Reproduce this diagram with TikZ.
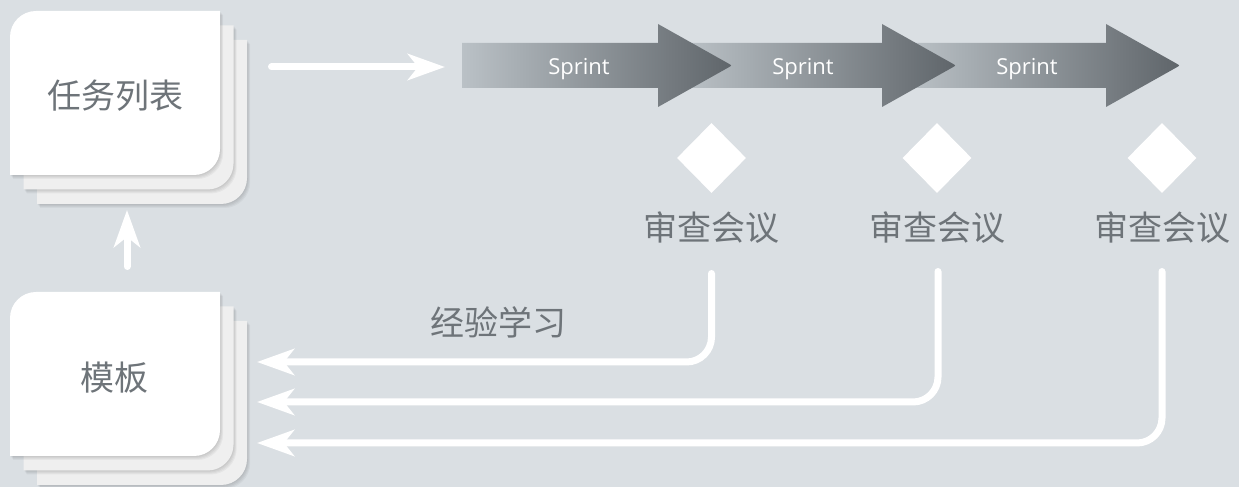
\documentclass[tikz,border=0pt]{standalone}
\usepackage{fontspec}
\setmainfont{Open Sans}
\newfontfamily\cjk{Noto Sans CJK SC}
\usetikzlibrary{arrows.meta,shapes.geometric}
\definecolor{bgcol}{HTML}{DADFE3}
\definecolor{sprL}{HTML}{BAC1C6}
\definecolor{sprR}{HTML}{5F656A}
\definecolor{txtgray}{HTML}{6E7479}
\definecolor{cardback}{HTML}{EFEFEF}
\def\cardpath{(0,0) -- (0,138) arc[start angle=180,end angle=90,radius=26] -- (210,164) -- (210,26) arc[start angle=0,end angle=-90,radius=26] -- cycle}
\def\card(#1,#2)[#3]{\foreach \s in {1,...,4}{\fill[black,opacity=.04,shift={(#1+\s*.8,#2-\s)}] \cardpath;}
	\fill[#3,shift={(#1,#2)}] \cardpath;}
\def\sprint#1{\shade[left color=sprL,right color=sprR] (#1-270,399) -- (#1-74,399) -- (#1-74,380) -- (#1-4,419.3) .. controls (#1,421.5) .. (#1-4,423.7) -- (#1-74,463) -- (#1-74,444) -- (#1-270,444) -- cycle;}
\tikzset{
	flow/.style={white, line width=7pt, line cap=round, -{Stealth[length=37pt,width=26pt,inset=10pt]}},
	cjklabel/.style={text=txtgray, font=\cjk\fontsize{34}{40}\selectfont, inner sep=0pt},
	sprtext/.style={text=white, font=\fontsize{22}{26}\selectfont, inner sep=0pt},
	milestone/.style={diamond, fill=white, minimum width=69pt, minimum height=70pt, inner sep=0pt}
}

\begin{document}
\begin{tikzpicture}[x=1pt,y=1pt]
		%%%%% START %%%%%
		\fill[bgcol] (0,0) rectangle (1239,487);
		\useasboundingbox (0,0) rectangle (1239,487);
		
		% stacks
		\card(37,283)[cardback]
		\card(23.5,297.5)[cardback]
		\card(10,312)[white]
		\node[cjklabel] (tasks) at (115,391) {任务列表};
		
		\card(37,2)[cardback]
		\card(23.5,16.5)[cardback]
		\card(10,31)[white]
		\node[cjklabel] (tmpl) at (114,109.5) {模板};
		
		% sprints
		\sprint{1180}
		\sprint{956}
		\sprint{732}
		\node[sprtext] (sp1) at (579,418) {Sprint};
		\node[sprtext] (sp2) at (803,418) {Sprint};
		\node[sprtext] (sp3) at (1027,418) {Sprint};
		
		% reviews
		\node[milestone] (m1) at (711.5,329) {};
		\node[milestone] (m2) at (937,329) {};
		\node[milestone] (m3) at (1162,329) {};
		\node[cjklabel] (r1) at (711.5,259) {审查会议};
		\node[cjklabel] (r2) at (937,259) {审查会议};
		\node[cjklabel] (r3) at (1162,259) {审查会议};
		\node[cjklabel] (learn) at (498,165) {经验学习};
		
		% arrows
		\coordinate (tasks-out) at (271.5,420);
		\coordinate (sprint-in) at (445,420);
		\draw[flow] (tasks-out) -- (sprint-in);
		
		\coordinate (tmpl-out) at (127,220.5);
		\coordinate (tasks-in) at (127,277);
		\draw[flow] (tmpl-out) -- (tasks-in);
		
		\coordinate (l1) at (711.5,213.5);
		\coordinate (l2) at (938,215.5);
		\coordinate (l3) at (1162,215.5);
		\coordinate (b1) at (257,125);
		\coordinate (b2) at (257,85);
		\coordinate (b3) at (257,44);
		\draw[flow, rounded corners=25pt] (l1) |- (b1);
		\draw[flow, rounded corners=25pt] (l2) |- (b2);
		\draw[flow, rounded corners=25pt] (l3) |- (b3);
		%%%%% END %%%%%
	\end{tikzpicture}
\end{document}
